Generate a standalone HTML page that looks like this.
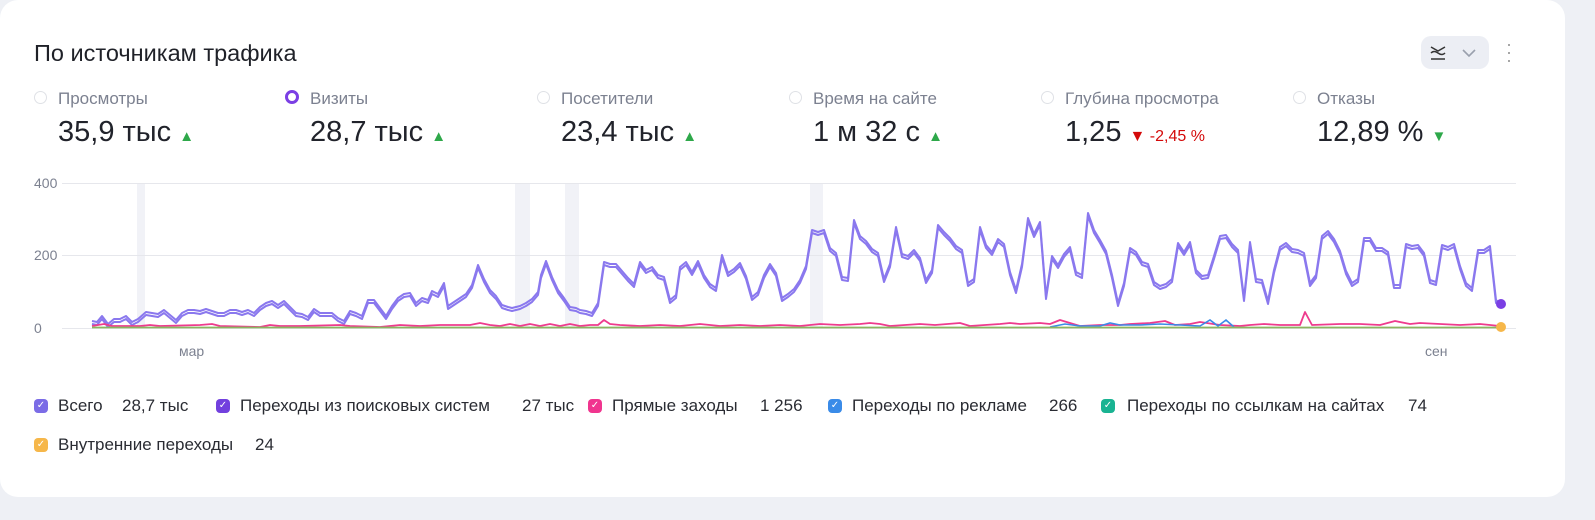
<!DOCTYPE html>
<html><head><meta charset="utf-8"><style>
body{margin:0;width:1595px;height:520px;background:#eef0f5;font-family:"Liberation Sans",sans-serif;position:relative;overflow:hidden}
.card{position:absolute;left:0;top:0;width:1565px;height:497px;background:#fff;border-radius:18px}
.t{position:absolute;white-space:nowrap}
.radio{position:absolute;width:11px;height:11px;border:1px solid #dfe1e6;border-radius:50%}
.lab{font-size:17px;color:#7c8190}
.val{font-size:29px;color:#21232b}
.up{color:#2ea84a;font-size:15px}
.cb{position:absolute;width:14px;height:14px;border-radius:4px;color:#fff;font-size:10px;line-height:14px;text-align:center}
.lg{font-size:17px;color:#2a2c33}
</style></head><body>
<div class="card"></div>
<div class="t" style="left:34px;top:40px;font-size:23.5px;color:#1f2128">По источникам трафика</div>
<div style="position:absolute;left:1421px;top:36px;width:68px;height:33px;background:#eceef4;border-radius:10px"></div>
<svg style="position:absolute;left:1430px;top:44px" width="50" height="18"><path d="M1 3l7 4 7-4M1 9q3-3 7 0t7 0M1 15h14" fill="none" stroke="#333" stroke-width="1.5"/><path d="M33 6l6 6 6-6" fill="none" stroke="#9aa0ad" stroke-width="1.6"/></svg>
<div class="t" style="left:1506px;top:40px;font-size:18px;color:#999;line-height:8px">·<br>·<br>·</div>

<div class="radio" style="left:34px;top:91px"></div><div class="t lab" style="left:58px;top:89px">Просмотры</div>
<div class="t val" style="left:58px;top:116px">35,9 тыс <span class="up">▲</span></div>
<div class="radio" style="left:285px;top:90px;width:8px;height:8px;border:3px solid #7b3fe4"></div><div class="t lab" style="left:310px;top:89px">Визиты</div>
<div class="t val" style="left:310px;top:116px">28,7 тыс <span class="up">▲</span></div>
<div class="radio" style="left:537px;top:91px"></div><div class="t lab" style="left:561px;top:89px">Посетители</div>
<div class="t val" style="left:561px;top:116px">23,4 тыс <span class="up">▲</span></div>
<div class="radio" style="left:789px;top:91px"></div><div class="t lab" style="left:813px;top:89px">Время на сайте</div>
<div class="t val" style="left:813px;top:116px">1 м 32 с <span class="up">▲</span></div>
<div class="radio" style="left:1041px;top:91px"></div><div class="t lab" style="left:1065px;top:89px">Глубина просмотра</div>
<div class="t val" style="left:1065px;top:116px">1,25 <span style="color:#d40a0a;font-size:16px">▼ -2,45 %</span></div>
<div class="radio" style="left:1293px;top:91px"></div><div class="t lab" style="left:1317px;top:89px">Отказы</div>
<div class="t val" style="left:1317px;top:116px">12,89 % <span class="up">▼</span></div>

<svg style="position:absolute;left:0;top:0" width="1595" height="520">
<g fill="#f1f2f7"><rect x="137" y="183" width="8" height="145"/><rect x="515" y="183" width="15" height="145"/><rect x="565" y="183" width="14" height="145"/><rect x="810" y="183" width="13" height="145"/></g>
<g stroke="#e6e7ec" stroke-width="1"><line x1="62" y1="183.5" x2="1516" y2="183.5"/><line x1="62" y1="255.5" x2="1516" y2="255.5"/><line x1="62" y1="328.5" x2="1516" y2="328.5"/></g>
<g font-size="14" fill="#7c8190" font-family="Liberation Sans"><text x="34" y="188">400</text><text x="34" y="260">200</text><text x="34" y="333">0</text><text x="179" y="356">мар</text><text x="1425" y="356">сен</text></g>
<polyline id="a" fill="none" stroke="#8a78ee" stroke-width="2" stroke-linejoin="round" points="92,321 97,322 102,316 108,324 114,319 120,319 126,316 132,322 138,319 146,312 152,313 158,314 164,310 170,315 176,320 182,313 188,310 194,310 200,311 206,309 212,311 218,313 224,313 230,310 236,310 242,312 248,310 254,313 260,307 266,303 272,301 278,305 284,301 290,307 296,313 302,314 308,317 314,309 320,313 326,313 332,313 338,318 344,321 350,311 356,313 362,316 368,300 374,300 380,308 386,316 392,306 398,298 404,294 410,293 416,303 422,298 428,300 432,291 438,294 444,283 448,306 454,302 460,298 466,294 472,285 478,265 484,279 490,290 496,296 502,305 508,307 512,308 520,306 526,303 532,299 538,292 541,275 546,261 552,277 558,290 564,298 570,307 576,308 580,310 586,311 592,313 598,303 604,262 610,264 616,264 622,271 628,278 634,284 640,262 646,270 652,267 658,275 664,277 670,300 676,295 680,267 686,262 692,272 698,261 704,275 710,284 716,288 722,255 728,273 734,269 740,263 746,276 752,297 758,292 764,275 770,264 776,273 782,298 788,294 794,289 800,280 806,266 812,230 818,232 824,230 830,248 836,253 842,277 848,278 854,220 860,236 866,241 872,249 878,253 884,279 890,264 896,227 902,254 908,256 914,250 920,258 926,280 932,270 938,225 944,232 950,238 956,246 962,250 968,283 974,279 980,227 986,245 992,252 998,239 1004,244 1010,272 1016,290 1022,264 1028,218 1034,234 1040,222 1046,296 1052,256 1058,265 1064,254 1070,247 1076,272 1082,275 1088,213 1094,230 1100,240 1106,251 1112,275 1118,303 1124,283 1130,248 1136,252 1142,262 1148,264 1154,282 1160,286 1166,284 1172,279 1178,243 1184,252 1190,242 1196,270 1202,276 1208,275 1214,256 1220,236 1226,235 1232,244 1238,250 1244,298 1250,242 1256,279 1262,280 1268,301 1274,270 1280,247 1286,243 1292,249 1298,250 1304,253 1310,283 1316,275 1322,236 1328,231 1334,239 1340,251 1346,271 1352,283 1358,279 1364,238 1370,238 1376,248 1382,248 1388,252 1394,285 1400,285 1406,244 1412,246 1418,245 1424,253 1430,280 1436,282 1442,245 1448,247 1454,244 1460,266 1466,283 1472,288 1478,250 1484,250 1490,246 1496,300 1501,304"/>
<use href="#a" transform="translate(0,3)" style="stroke:#6a3fd6"/>
<polyline fill="none" stroke="#ee3b8e" stroke-width="1.8" stroke-linejoin="round" points="92,326 104,324 112,326 140,326 150,325 160,326 200,325 212,324 220,326 260,327 270,325 280,326 300,326 340,325 350,326 380,327 400,325 420,326 440,325 470,325 480,323 490,325 500,326 510,324 520,326 530,324 540,326 550,324 560,326 570,324 580,326 590,325 598,325 604,320 610,324 620,325 640,326 660,325 680,326 700,324 710,325 720,326 740,325 760,326 780,325 800,326 820,324 840,325 860,324 870,323 880,324 890,326 920,324 935,325 960,323 970,326 1000,324 1010,323 1020,324 1040,323 1050,324 1060,320 1080,326 1100,325 1120,325 1130,324 1150,323 1165,321 1175,325 1190,324 1200,322 1220,325 1240,326 1250,325 1264,324 1280,325 1300,325 1305,312 1312,325 1340,324 1360,324 1380,325 1395,321 1410,324 1420,323 1440,324 1460,325 1480,324 1500,326"/>
<polyline fill="none" stroke="#3a8be8" stroke-width="1.6" points="1050,327 1065,324 1080,326 1100,326 1110,323 1120,325 1140,325 1160,324 1180,325 1200,326 1210,320 1218,326 1226,320 1234,327"/>
<line x1="92" y1="327.5" x2="1501" y2="327.5" stroke="#8bb560" stroke-width="1.8"/>
<circle cx="1501" cy="304" r="5" fill="#7b3fe4"/><circle cx="1501" cy="327" r="5" fill="#f6b74a"/>
</svg>

<div class="cb" style="left:34px;top:399px;background:#7b6ce6">✓</div><div class="t lg" style="left:58px;top:396px">Всего</div><div class="t lg" style="left:122px;top:396px">28,7 тыс</div>
<div class="cb" style="left:216px;top:399px;background:#7240de">✓</div><div class="t lg" style="left:240px;top:396px">Переходы из поисковых систем</div><div class="t lg" style="left:522px;top:396px">27 тыс</div>
<div class="cb" style="left:588px;top:399px;background:#f0358f">✓</div><div class="t lg" style="left:612px;top:396px">Прямые заходы</div><div class="t lg" style="left:760px;top:396px">1 256</div>
<div class="cb" style="left:828px;top:399px;background:#3a8be8">✓</div><div class="t lg" style="left:852px;top:396px">Переходы по рекламе</div><div class="t lg" style="left:1049px;top:396px">266</div>
<div class="cb" style="left:1101px;top:399px;background:#19b392">✓</div><div class="t lg" style="left:1127px;top:396px">Переходы по ссылкам на сайтах</div><div class="t lg" style="left:1408px;top:396px">74</div>
<div class="cb" style="left:34px;top:438px;background:#f6b74a">✓</div><div class="t lg" style="left:58px;top:435px">Внутренние переходы</div><div class="t lg" style="left:255px;top:435px">24</div>
</body></html>
